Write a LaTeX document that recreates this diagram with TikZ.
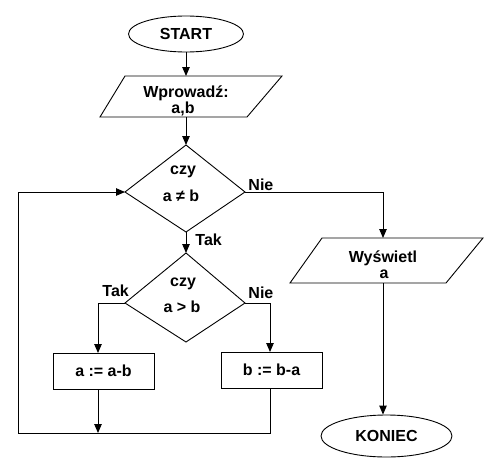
\documentclass[tikz,border=0pt]{standalone}
\usepackage{fontspec}
\setmainfont{Liberation Sans}
\usetikzlibrary{arrows.meta,shapes.geometric}
\begin{document}
\begin{tikzpicture}[x=1pt,y=-1pt,line width=0.9pt,
  txtfont/.style={font=\bfseries\fontsize{16}{17}\selectfont},
  lbl/.style={txtfont,inner sep=0pt,anchor=base},
  lblw/.style={txtfont,inner sep=0pt,anchor=base west},
  term/.style={draw,ellipse,inner sep=0pt,txtfont},
  proc/.style={draw,rectangle,inner sep=0pt,minimum width=101pt,minimum height=36pt,txtfont},
  arr/.style={-{Triangle[length=9pt,width=7.5pt]}}]
\useasboundingbox (0,0) rectangle (500,474);

% START
\node[term,minimum width=115pt,minimum height=36pt] (start) at (186,34) {START};

% input parallelogram
\coordinate (inA) at (125,76);
\coordinate (inB) at (282,76);
\coordinate (inC) at (247,117);
\coordinate (inD) at (100,117);
\coordinate (inN) at (186,76);
\coordinate (inS) at (186,117);
\draw (inA) -- (inB) -- (inC) -- (inD) -- cycle;
\node[lbl] (in1) at (186,97) {Wprowadź:};
\node[lbl] (in2) at (183,113) {a,b};

% decision 1
\coordinate (d1n) at (186,145);
\coordinate (d1e) at (245,192);
\coordinate (d1s) at (186,232);
\coordinate (d1w) at (125,192);
\draw (d1n) -- (d1e) -- (d1s) -- (d1w) -- cycle;
\node[lbl] (d1a) at (183,174) {czy};
\node[lbl] (d1b) at (181,201) {a ≠ b};

% decision 2
\coordinate (d2n) at (186,253);
\coordinate (d2e) at (245,303);
\coordinate (d2s) at (186,342);
\coordinate (d2w) at (125,303);
\draw (d2n) -- (d2e) -- (d2s) -- (d2w) -- cycle;
\node[lbl] (d2a) at (183,286) {czy};
\node[lbl] (d2b) at (182,312) {a > b};

% process boxes
\node[proc] (pa) at (103.5,371) {a := a-b};
\node[proc] (pb) at (271.5,370) {b := b-a};
\coordinate (paN) at (98,353);
\coordinate (paS) at (98,389);
\coordinate (pbN) at (270,352);
\coordinate (pbS) at (270,388);

% output parallelogram
\coordinate (oA) at (322,238);
\coordinate (oB) at (483,238);
\coordinate (oC) at (446,283);
\coordinate (oD) at (290,283);
\coordinate (oN) at (383,238);
\coordinate (oS) at (383,283);
\draw (oA) -- (oB) -- (oC) -- (oD) -- cycle;
\node[lbl] (o1) at (383,262) {Wyświetl};
\node[lbl] (o2) at (384,278) {a};

% KONIEC
\node[term,minimum width=131pt,minimum height=42pt] (end) at (386.5,436) {KONIEC};

% loop coordinates
\coordinate (jn) at (98,433);
\coordinate (lpL) at (18,433);

% connectors
\draw[arr] (start.south) -- (inN);
\draw[arr] (inS) -- (d1n);
\draw[arr] (d1e) -| (oN);
\draw[arr] (d1s) -- (d2n);
\draw[arr] (d2w) -| (paN);
\draw[arr] (d2e) -| (pbN);
\draw[arr] (paS) -- (jn);
\draw[arr] (pbS) |- (lpL) |- (d1w);
\draw[arr] (oS) -- (oS |- end.north);

% labels
\node[lblw] (l1) at (248,190) {Nie};
\node[lblw] (l2) at (195,245) {Tak};
\node[lblw] (l3) at (102,296) {Tak};
\node[lblw] (l4) at (248,298) {Nie};
\end{tikzpicture}
\end{document}
